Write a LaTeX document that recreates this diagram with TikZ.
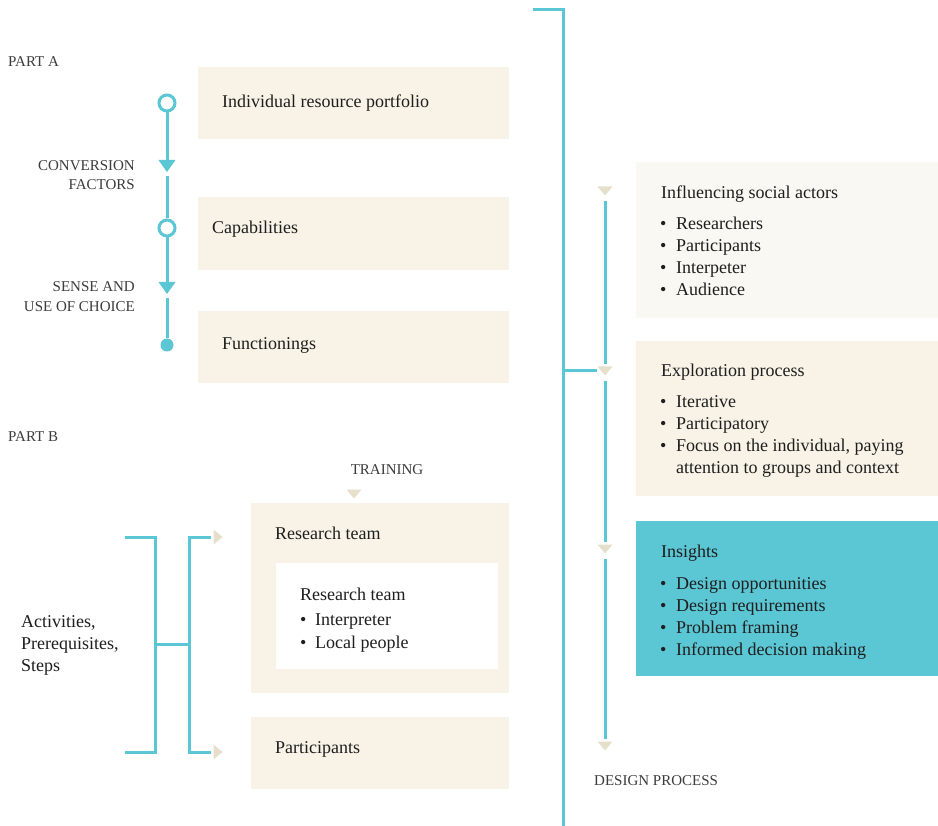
\documentclass[tikz,border=0pt]{standalone}
\usepackage{fontspec}
\setmainfont{Liberation Serif}
\definecolor{cy}{HTML}{5BC6D4}
\definecolor{sand}{HTML}{F8F3E6}
\definecolor{sandlight}{HTML}{FAF8F2}
\definecolor{tri}{HTML}{E6DFCB}
\definecolor{ink}{HTML}{1E1E1E}
\definecolor{capgray}{HTML}{3C3C3C}
\begin{document}
\begin{tikzpicture}[x=1pt,y=-1pt,
  body/.style={font=\fontsize{18}{22}\selectfont, text=ink, inner sep=0, anchor=base west},
  caps/.style={font=\fontsize{15}{19}\selectfont, text=capgray, inner sep=0, anchor=base west},
  box/.style={fill=sand, draw=none, inner sep=0, anchor=north west},
  cyline/.style={draw=cy, line width=3pt},
  ring/.style={circle, draw=cy, line width=3pt, fill=white, minimum size=16pt, inner sep=0},
  dot/.style={circle, fill=cy, minimum size=13pt, inner sep=0},
  pics/cytri/.style={code={\fill[cy] (-8.5,-6) -- (8.5,-6) -- (0,6) -- cycle;}},
  pics/sandtri/.style={code={\fill[tri] (-7.5,-4.5) -- (7.5,-4.5) -- (0,4.5) -- cycle;}},
  pics/sandtriright/.style={code={\fill[tri] (-4.5,-7.5) -- (-4.5,7.5) -- (4.5,0) -- cycle;}}
]
\useasboundingbox (0,0) rectangle (938,826);
\fill[white] (0,0) rectangle (938,826);

% ---------- Part A ----------
\node[caps] (partA) at (8,67) {PART A};
\node[box, minimum width=311pt, minimum height=72pt] (portfolio) at (198,67) {};
\node[box, minimum width=311pt, minimum height=73pt] (capab) at (198,197) {};
\node[box, minimum width=311pt, minimum height=72pt] (funct) at (198,311) {};
\node[body] (portfolioT) at (222,108) {Individual resource portfolio};
\node[body] (capabT) at (212,234) {Capabilities};
\node[body] (functT) at (222,350) {Functionings};

\node[ring] (ring1) at (167,103) {};
\node[ring] (ring2) at (167,228) {};
\node[dot] (end) at (167,345) {};
\coordinate (convA) at (167,166);
\coordinate (convB) at (167,288);
\draw[cyline] (ring1) -- (convA);
\draw[cyline, shorten <=10pt] (convA) -- (ring2);
\draw[cyline] (ring2) -- (convB);
\draw[cyline, shorten <=10pt] (convB) -- (end);
\pic at (convA) {cytri};
\pic at (convB) {cytri};

\node[caps, anchor=base east] (conv1) at (135,171) {CONVERSION};
\node[caps, anchor=base east] (conv2) at (135,190) {FACTORS};
\node[caps, anchor=base east] (sense1) at (135,292) {SENSE AND};
\node[caps, anchor=base east] (sense2) at (135,312) {USE OF CHOICE};

% ---------- Part B ----------
\node[caps] (partB) at (8,442) {PART B};
\node[caps, anchor=base] (training) at (387,475) {TRAINING};
\coordinate (trainTip) at (354,494);
\pic at (trainTip) {sandtri};

\node[box, minimum width=258pt, minimum height=190pt] (rteam) at (251,503) {};
\node[box, fill=white, minimum width=222pt, minimum height=106pt] (innerW) at (276,563) {};
\node[box, minimum width=258pt, minimum height=72pt] (partic) at (251,717) {};
\node[body] (rteamT) at (275,539) {Research team};
\node[body] (innerT) at (300,600) {Research team};
\node[body] (innerI1) at (300,625) {\makebox[15pt][l]{\textbullet}Interpreter};
\node[body] (innerI2) at (300,648) {\makebox[15pt][l]{\textbullet}Local people};
\node[body] (particT) at (275,753) {Participants};

\node[body] (act1) at (21,627) {Activities,};
\node[body] (act2) at (21,649) {Prerequisites,};
\node[body] (act3) at (21,671) {Steps};

\coordinate (lbTop) at (125,537);
\coordinate (lbBot) at (155,752);
\coordinate (lbEnd) at (125,752);
\coordinate (midL) at (155,644);
\coordinate (midR) at (189,644);
\coordinate (rbTop) at (211,537);
\coordinate (rbBot) at (189,752);
\coordinate (rbEnd) at (211,752);
\draw[cyline] (lbTop) -| (lbBot) -- (lbEnd);
\draw[cyline] (midL) -- (midR);
\draw[cyline] (rbTop) -| (rbBot) -- (rbEnd);
\coordinate (toTeam) at (218,537);
\coordinate (toPartic) at (218,752);
\pic at (toTeam) {sandtriright};
\pic at (toPartic) {sandtriright};

% ---------- Design process ----------
\coordinate (spineTop) at (533,10);
\coordinate (spineBot) at (563,826);
\coordinate (spineJoin) at (563,371);
\draw[cyline] (spineTop) -| (spineBot);

\node[box, fill=sandlight, minimum width=302pt, minimum height=156pt] (infl) at (636,162) {};
\node[box, minimum width=302pt, minimum height=155pt] (explo) at (636,341) {};
\node[box, fill=cy, minimum width=302pt, minimum height=155pt] (insight) at (636,521) {};

\coordinate (stepA) at (605,191);
\coordinate (stepB) at (605,371);
\coordinate (stepC) at (605,549);
\coordinate (stepD) at (605,746);
\draw[cyline, shorten >=8pt] (spineJoin) -- (stepB);
\draw[cyline, shorten <=10pt, shorten >=7pt] (stepA) -- (stepB);
\draw[cyline, shorten <=10pt, shorten >=7pt] (stepB) -- (stepC);
\draw[cyline, shorten <=10pt, shorten >=7pt] (stepC) -- (stepD);
\foreach \s in {stepA,stepB,stepC,stepD} \pic at (\s) {sandtri};

\node[body] (inflT) at (661,199) {Influencing social actors};
\foreach \t [count=\i] in {Researchers, Participants, Interpeter, Audience}
  \node[body] (infl-\i) at (660,{230+22*(\i-1)}) {\makebox[16pt][l]{\textbullet}\t};

\node[body] (exploT) at (661,377) {Exploration process};
\foreach \t [count=\i] in {Iterative, Participatory, {Focus on the individual, paying}}
  \node[body] (explo-\i) at (660,{408+22*(\i-1)}) {\makebox[16pt][l]{\textbullet}\t};
\node[body] (explo-4) at (676,474) {attention to groups and context};

\node[body] (insightT) at (661,557) {Insights};
\foreach \t [count=\i] in {Design opportunities, Design requirements, Problem framing, Informed decision making}
  \node[body] (insight-\i) at (660,{589+22*(\i-1)}) {\makebox[16pt][l]{\textbullet}\t};

\node[caps] (design) at (594,785) {DESIGN PROCESS};
\end{tikzpicture}
\end{document}
